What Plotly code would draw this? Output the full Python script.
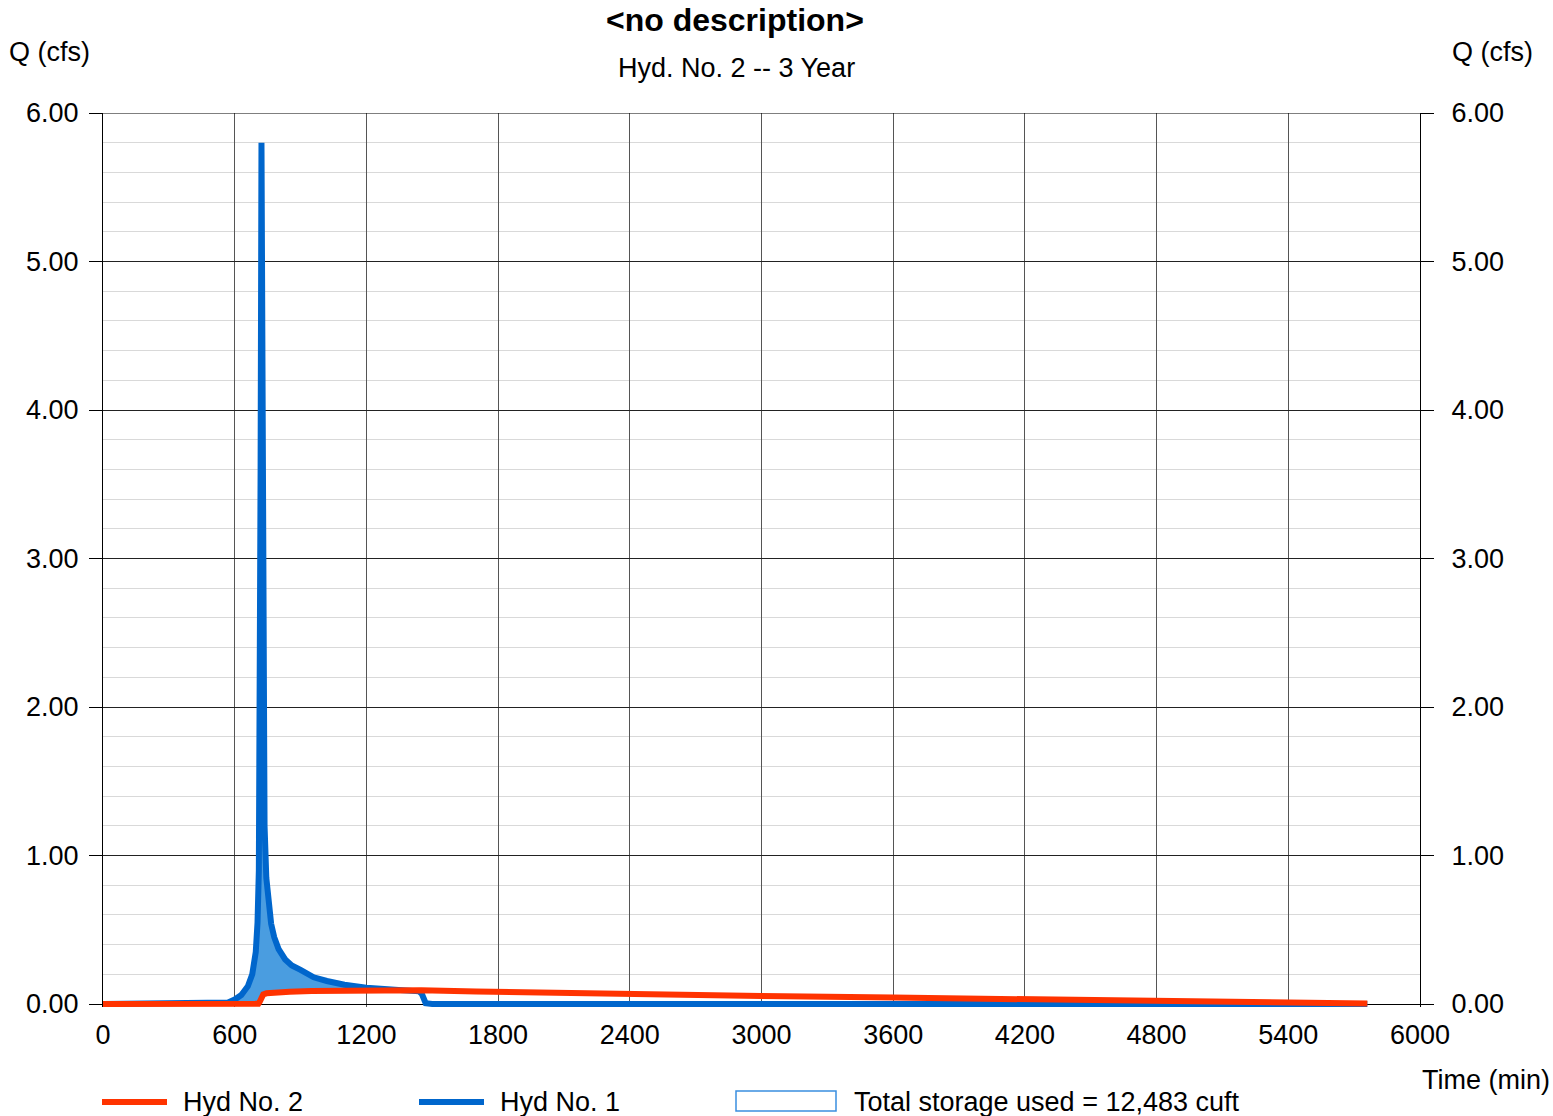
import numpy as np
import plotly.graph_objects as go

# Hyd No. 1 -- inflow hydrograph (time in min, flow in cfs)
inflow_time = [0, 540, 570, 600, 630, 660, 680, 696, 704, 710, 714, 718, 722,
               726, 730, 736, 744, 754, 766, 780, 800, 830, 860, 900, 960,
               1020, 1100, 1200, 1300, 1400, 1440, 1452, 1460, 1470, 1500, 5760]
inflow_q = [0, 0, 0.01, 0.03, 0.06, 0.12, 0.2, 0.35, 0.55, 0.9, 1.8, 3.6, 5.80,
            3.8, 2.0, 1.2, 0.85, 0.66, 0.54, 0.45, 0.37, 0.30, 0.26, 0.23, 0.18,
            0.155, 0.13, 0.11, 0.10, 0.09, 0.085, 0.07, 0.03, 0.005, 0, 0]

# Hyd No. 2 -- routed outflow hydrograph
outflow_time = [0, 700, 708, 714, 720, 730, 745, 780, 850, 950, 1100, 1300, 1450,
                1700, 2000, 2400, 3000, 3600, 4200, 4800, 5400, 5760]
outflow_q = [0, 0, 0.002, 0.015, 0.045, 0.065, 0.072, 0.078, 0.083, 0.087, 0.09,
             0.092, 0.092, 0.085, 0.076, 0.068, 0.054, 0.043, 0.033, 0.022, 0.012, 0.004]

x_ticks = list(range(0, 6001, 600))
y_ticks = [0, 1, 2, 3, 4, 5, 6]

title_text = "<no description>"
subtitle_text = "Hyd. No. 2 -- 3 Year"
y_title = "Q (cfs)"
x_title = "Time (min)"
legend_labels = ["Hyd No. 2", "Hyd No. 1", "Total storage used = 12,483 cuft"]

RED = "#ff3300"
BLUE = "#0066cc"
FILL = "#4a9de0"
FONT = "Liberation Sans, Arial, sans-serif"

W, H = 1553, 1116
# plot box: Q = 6 at y=113 px, Q = 0 at y=1004 px; a few px of headroom
# below zero so the thick hydrograph lines are not clipped at the baseline
Y_TOP, Y_ZERO, PAD = 113, 1004, 3
L, R, T, B = 103, 133, Y_TOP, H - Y_ZERO - PAD
PW, PH = W - L - R, H - T - B
Q_MAX = 6.0
Q_MIN = -PAD * Q_MAX / (Y_ZERO - Y_TOP)


def px(x):
    return (x - L) / PW


def py(y):
    return (H - B - y) / PH


# storage band: area where inflow exceeds outflow
t_in = np.array(inflow_time, dtype=float)
band_low = np.interp(t_in, outflow_time, outflow_q)
band_high = np.maximum(np.array(inflow_q), band_low)

fig = go.Figure()
fig.add_trace(go.Scatter(x=t_in, y=band_low, mode="lines", line=dict(width=0),
                         hoverinfo="skip", showlegend=False))
fig.add_trace(go.Scatter(x=t_in, y=band_high, mode="lines", line=dict(width=0),
                         fill="tonexty", fillcolor=FILL, hoverinfo="skip",
                         showlegend=False))
fig.add_trace(go.Scatter(x=inflow_time, y=inflow_q, mode="lines", name="Hyd No. 1",
                         line=dict(color=BLUE, width=6), showlegend=False))
fig.add_trace(go.Scatter(x=outflow_time, y=outflow_q, mode="lines", name="Hyd No. 2",
                         line=dict(color=RED, width=6), showlegend=False))
# carrier for the right-hand Q axis
fig.add_trace(go.Scatter(x=outflow_time, y=outflow_q, yaxis="y2", mode="lines",
                         line=dict(width=0, color="rgba(0,0,0,0)"),
                         hoverinfo="skip", showlegend=False))

tickfont = dict(family=FONT, size=27, color="black")

fig.update_layout(
    width=W, height=H,
    margin=dict(l=L, r=R, t=T, b=B),
    paper_bgcolor="white", plot_bgcolor="white",
    showlegend=False,
    xaxis=dict(range=[0, 6000], tickvals=x_ticks, ticktext=[str(v) for v in x_ticks],
               showgrid=True, gridcolor="#555555", gridwidth=1,
               showline=False, ticks="", tickfont=tickfont, ticklabelstandoff=9,
               zeroline=False),
    yaxis=dict(range=[Q_MIN, Q_MAX], tickvals=y_ticks, tickformat=".2f",
               showgrid=True, gridcolor="#222222", gridwidth=1,
               minor=dict(tickvals=[v / 5 for v in range(1, 30) if v % 5],
                          showgrid=True, gridcolor="#d9d9d9", gridwidth=1, ticks=""),
               showline=True, linecolor="black", linewidth=1, mirror=True,
               ticks="outside", ticklen=13, tickcolor="black", tickwidth=1,
               tickfont=tickfont, ticklabelstandoff=5,
               zeroline=True, zerolinecolor="black", zerolinewidth=1),
    yaxis2=dict(range=[Q_MIN, Q_MAX], tickvals=y_ticks, tickformat=".2f", overlaying="y",
                side="right", showgrid=False, showline=False, zeroline=False,
                ticks="outside", ticklen=13, tickcolor="black", tickwidth=1,
                tickfont=tickfont, ticklabelstandoff=12),
)

ann = [
    dict(text="<b>" + title_text.replace("<", "&lt;").replace(">", "&gt;") + "</b>",
         x=px(735), y=py(20), font=dict(family=FONT, size=32, color="black")),
    dict(text=subtitle_text, x=px(736), y=py(68), font=dict(family=FONT, size=27, color="black")),
    dict(text=y_title, x=px(49), y=py(52), font=dict(family=FONT, size=27, color="black")),
    dict(text=y_title, x=px(1492), y=py(52), font=dict(family=FONT, size=27, color="black")),
    dict(text=x_title, x=px(1486), y=py(1080), font=dict(family=FONT, size=27, color="black")),
    dict(text=legend_labels[0], x=px(181), y=py(1102), xanchor="left",
         font=dict(family=FONT, size=27, color="black")),
    dict(text=legend_labels[1], x=px(498), y=py(1102), xanchor="left",
         font=dict(family=FONT, size=27, color="black")),
    dict(text=legend_labels[2], x=px(852), y=py(1102), xanchor="left",
         font=dict(family=FONT, size=27, color="black")),
]
for a in ann:
    a.setdefault("xanchor", "center")
    a.update(xref="paper", yref="paper", yanchor="middle", showarrow=False)
fig.update_layout(annotations=ann)

fig.update_layout(shapes=[
    # top frame edge at Q = 6
    dict(type="line", xref="paper", yref="y", x0=0, x1=1, y0=Q_MAX, y1=Q_MAX,
         line=dict(color="black", width=1)),
    dict(type="line", xref="paper", yref="paper", x0=px(102), x1=px(167),
         y0=py(1102), y1=py(1102), line=dict(color=RED, width=6)),
    dict(type="line", xref="paper", yref="paper", x0=px(419), x1=px(484),
         y0=py(1102), y1=py(1102), line=dict(color=BLUE, width=6)),
    dict(type="rect", xref="paper", yref="paper", x0=px(736), x1=px(836),
         y0=py(1111), y1=py(1091), line=dict(color="#3a8ee0", width=1.5),
         fillcolor="white"),
])

fig.write_html("out.html")
